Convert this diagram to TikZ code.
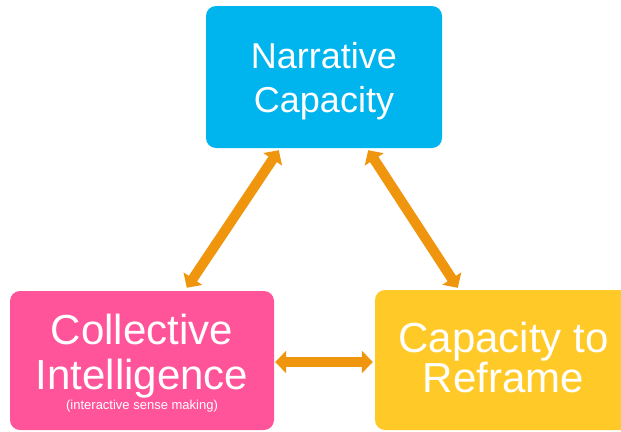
\documentclass[tikz,border=0pt]{standalone}
\usepackage{fontspec}
\setmainfont{Liberation Sans}
\usetikzlibrary{arrows.meta}
\definecolor{boxcyan}{RGB}{0,180,238}
\definecolor{boxpink}{RGB}{255,84,154}
\definecolor{boxyellow}{RGB}{255,202,40}
\definecolor{linkorange}{RGB}{240,150,14}
\tikzset{
  box/.style={rectangle, rounded corners=10pt, text=white, align=center, inner sep=0pt},
  link/.style={draw=linkorange, line width=10pt,
    {Triangle[width=22pt,length=11pt]}-{Triangle[width=22pt,length=11pt]}}
}
\begin{document}
\begin{tikzpicture}[x=1pt, y=-1pt]
      \useasboundingbox (0,0) rectangle (621,431);
      \draw
        (324,77) node[box, fill=boxcyan, minimum width=236pt, minimum height=142pt,
          text height=70pt, text depth=0pt,
          font=\fontsize{36}{44}\selectfont] (narr){Narrative\\Capacity}
        (142,360.5) node[box, fill=boxpink, minimum width=264pt, minimum height=139pt,
          text height=97pt, text depth=0pt,
          font=\fontsize{42}{45}\selectfont] (coll){Collective\\Intelligence\\[-25pt]{\fontsize{13}{15}\selectfont (interactive sense making)}}
        (503.5,360) node[box, fill=boxyellow, minimum width=257pt, minimum height=140pt,
          text height=64pt, text depth=0pt,
          font=\fontsize{42}{40}\selectfont] (refr){Capacity to\\Reframe};
      \begin{scope}[link]
        \draw ([xshift=73pt,yshift=-2pt]narr.south west) to ([xshift=177pt,yshift=3pt]coll.north west);
        \draw ([xshift=-74pt,yshift=-2pt]narr.south east) to ([xshift=83pt,yshift=2pt]refr.north west);
        \draw ([xshift=1pt,yshift=-1.5pt]coll.east) to ([xshift=-2pt,yshift=-2pt]refr.west);
      \end{scope}
    \end{tikzpicture}
\end{document}
